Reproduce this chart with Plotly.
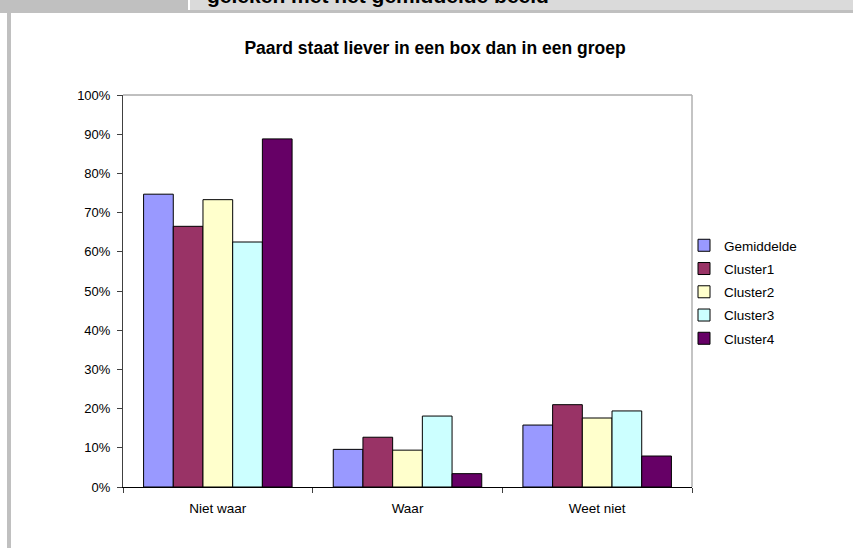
import plotly.graph_objects as go

# data
categories = ["Niet waar", "Waar", "Weet niet"]
series_names = ["Gemiddelde", "Cluster1", "Cluster2", "Cluster3", "Cluster4"]
gemiddelde = [0.747, 0.096, 0.158]
cluster1 = [0.665, 0.127, 0.210]
cluster2 = [0.733, 0.094, 0.176]
cluster3 = [0.625, 0.181, 0.194]
cluster4 = [0.888, 0.034, 0.079]
y_ticks = [0, 0.1, 0.2, 0.3, 0.4, 0.5, 0.6, 0.7, 0.8, 0.9, 1.0]

colors = ["#9999FF", "#993366", "#FFFFCC", "#CCFFFF", "#660066"]
values = [gemiddelde, cluster1, cluster2, cluster3, cluster4]

# plot area in pixels
L, R, T, B = 123, 692, 95, 487
W, H = R - L, B - T

def px(x):
    return (x - L) / W

def py(y):
    return (B - y) / H

font = "Liberation Sans, Arial, sans-serif"

fig = go.Figure()
for name, vals, col in zip(series_names, values, colors):
    fig.add_trace(go.Bar(
        x=categories, y=vals, name=name, legendgroup=name,
        marker=dict(color=col, line=dict(color="#000000", width=1)),
    ))

shapes = [
    # spreadsheet bits around the chart
    dict(type="rect", xref="paper", yref="paper", x0=px(0), x1=px(188), y0=py(0), y1=py(10),
         fillcolor="#c0c0c0", line_width=0, layer="below"),
    dict(type="rect", xref="paper", yref="paper", x0=px(190), x1=px(853), y0=py(0), y1=py(10),
         fillcolor="#dadada", line_width=0, layer="below"),
    dict(type="rect", xref="paper", yref="paper", x0=px(0), x1=px(853), y0=py(10), y1=py(13),
         fillcolor="#c0c0c0", line_width=0, layer="below"),
    dict(type="rect", xref="paper", yref="paper", x0=px(7), x1=px(11), y0=py(13), y1=py(548),
         fillcolor="#c0c0c0", line_width=0, layer="below"),
    # plot area border (top / right)
    dict(type="line", xref="paper", yref="paper", x0=0, x1=1, y0=1, y1=1,
         line=dict(color="#808080", width=1), layer="below"),
    dict(type="line", xref="paper", yref="paper", x0=1, x1=1, y0=0, y1=1,
         line=dict(color="#b0b0b0", width=1.5), layer="below"),
]

fig.add_annotation(
    text="<b>geleken met het gemiddelde beeld</b>", xref="paper", yref="paper",
    x=px(205), y=py(9), xanchor="left", yanchor="bottom", showarrow=False,
    font=dict(family=font, size=21, color="#000000"),
)

fig.update_layout(
    width=853, height=548,
    margin=dict(l=L, r=853 - R, t=T, b=548 - B),
    paper_bgcolor="#ffffff", plot_bgcolor="#ffffff",
    barmode="group", bargap=0.217, bargroupgap=0,
    title=dict(text="<b>Paard staat liever in een box dan in een groep</b>",
               x=px(435), xref="paper", xanchor="center",
               y=1 - 48 / 548, yanchor="middle",
               font=dict(family=font, size=17.5, color="#000000")),
    font=dict(family=font, size=13, color="#000000"),
    legend=dict(x=px(684), y=py(230), xanchor="left", yanchor="top",
                traceorder="grouped", tracegroupgap=2.7,
                font=dict(family=font, size=13.5, color="#000000"),
                bgcolor="rgba(0,0,0,0)"),
    shapes=shapes,
    showlegend=True,
)
fig.update_yaxes(
    range=[0, 1], tickvals=y_ticks, tickformat=".0%",
    showgrid=False, zeroline=False,
    showline=True, linecolor="#404040", linewidth=1,
    ticks="outside", ticklen=5, tickcolor="#404040", ticklabelstandoff=4,
    tickfont=dict(family=font, size=13, color="#000000"),
)
fig.update_xaxes(
    showgrid=False, showline=True, linecolor="#000000", linewidth=1,
    ticks="outside", ticklen=5, tickcolor="#404040", tickson="boundaries",
    ticklabelstandoff=9,
    tickfont=dict(family=font, size=13.5, color="#000000"),
)

# page has an 8px body margin by default, drop it so the chart sits at 0,0
fig.write_html("out.html", config={"displayModeBar": False},
               post_script="document.body.style.margin='0';")
